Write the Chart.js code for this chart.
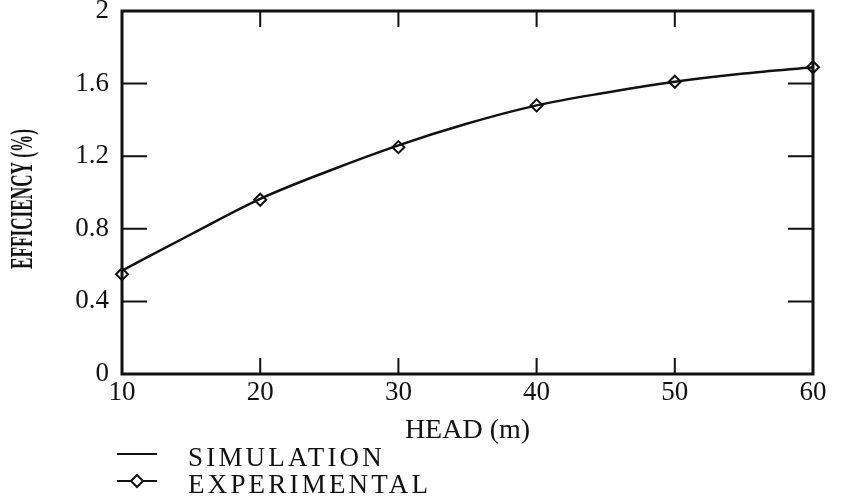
<!DOCTYPE html>
<html>
<head>
<meta charset="utf-8">
<script src="https://cdn.jsdelivr.net/npm/chart.js@4"></script>
<style>
  html, body { margin: 0; padding: 0; background: #fff; }
  #wrap { width: 842px; height: 499px; }
</style>
</head>
<body>
<div id="wrap"><canvas id="myChart"></canvas></div>
<script>
  const simHead = [10, 15, 20, 25, 30, 35, 40, 45, 50, 55, 60];
  const simEff = [0.57, 0.77, 0.965, 1.12, 1.26, 1.38, 1.48, 1.55, 1.61, 1.655, 1.69];
  const expHead = [10, 20, 30, 40, 50, 60];
  const expEff = [0.55, 0.96, 1.25, 1.48, 1.61, 1.69];
  const xTicks = [10, 20, 30, 40, 50, 60];
  const yTicks = [0, 0.4, 0.8, 1.2, 1.6, 2];

  const serif = '"Liberation Serif", "DejaVu Serif", serif';

  // frame, inward ticks, y title and legend
  const paperPlugin = {
    id: 'paper',
    afterDatasetsDraw(chart) {
      const { ctx, chartArea: a, scales } = chart;
      ctx.save();
      ctx.strokeStyle = '#111';
      ctx.lineWidth = 3;
      ctx.strokeRect(a.left, a.top, a.right - a.left, a.bottom - a.top);
      ctx.lineWidth = 2;
      ctx.beginPath();
      xTicks.slice(1, -1).forEach(v => {
        const x = scales.x.getPixelForValue(v);
        ctx.moveTo(x, a.bottom); ctx.lineTo(x, a.bottom - 16);
        ctx.moveTo(x, a.top); ctx.lineTo(x, a.top + 16);
      });
      yTicks.slice(1, -1).forEach(v => {
        const y = scales.y.getPixelForValue(v);
        ctx.moveTo(a.left, y); ctx.lineTo(a.left + 25, y);
        ctx.moveTo(a.right, y); ctx.lineTo(a.right - 25, y);
      });
      ctx.stroke();

      // condensed y title
      ctx.fillStyle = '#111';
      ctx.font = 'bold 32px ' + serif;
      const t = 'EFFICIENCY (%)';
      const w = ctx.measureText(t).width;
      ctx.translate(24, 199);
      ctx.rotate(-Math.PI / 2);
      ctx.scale(140 / w, 1);
      ctx.textAlign = 'center';
      ctx.textBaseline = 'middle';
      ctx.fillText(t, 0, 0);
      ctx.restore();

      // legend
      ctx.save();
      ctx.strokeStyle = '#111';
      ctx.lineWidth = 2;
      ctx.beginPath();
      ctx.moveTo(117, 454); ctx.lineTo(157, 454);
      ctx.moveTo(117, 481); ctx.lineTo(157, 481);
      ctx.stroke();
      ctx.fillStyle = '#fff';
      ctx.beginPath();
      ctx.moveTo(137, 475); ctx.lineTo(143, 481); ctx.lineTo(137, 487); ctx.lineTo(131, 481);
      ctx.closePath();
      ctx.fill(); ctx.stroke();
      ctx.fillStyle = '#111';
      ctx.font = '27px ' + serif;
      ctx.textBaseline = 'middle';
      ctx.letterSpacing = '3.2px';
      ctx.fillText('SIMULATION', 188, 459);
      ctx.fillText('EXPERIMENTAL', 188, 486);
      ctx.restore();
    }
  };

  new Chart(document.getElementById('myChart'), {
    type: 'line',
    data: {
      datasets: [{
        label: 'SIMULATION',
        data: simHead.map((h, i) => ({ x: h, y: simEff[i] })),
        borderColor: '#111',
        borderWidth: 2.5,
        pointRadius: 0,
        tension: 0.4,
        cubicInterpolationMode: 'monotone'
      }, {
        label: 'EXPERIMENTAL',
        data: expHead.map((h, i) => ({ x: h, y: expEff[i] })),
        showLine: false,
        pointStyle: 'rectRot',
        pointRadius: 6,
        pointBorderWidth: 2,
        pointBackgroundColor: '#fff',
        pointBorderColor: '#111',
        clip: false
      }]
    },
    options: {
      responsive: true,
      maintainAspectRatio: false,
      animation: false,
      layout: { padding: { left: 0, top: 11, right: 29, bottom: 0 } },
      plugins: { legend: { display: false }, tooltip: { enabled: false } },
      scales: {
        x: {
          type: 'linear',
          min: 10, max: 60,
          afterFit: s => { s.height = 125; s.paddingLeft = 0; s.paddingRight = 0; },
          afterBuildTicks: s => { s.ticks = xTicks.map(v => ({ value: v })); },
          grid: { display: false, drawTicks: false },
          border: { display: false },
          ticks: { color: '#111', padding: 3, font: { family: serif, size: 27 } },
          title: {
            display: true, text: 'HEAD (m)', color: '#111',
            font: { family: serif, size: 28 },
            padding: { bottom: 52 }
          }
        },
        y: {
          min: 0, max: 2,
          afterFit: s => { s.width = 122; s.paddingTop = 0; s.paddingBottom = 0; },
          afterBuildTicks: s => { s.ticks = yTicks.map(v => ({ value: v })); },
          grid: { display: false, drawTicks: false },
          border: { display: false },
          ticks: {
            color: '#111', padding: 13,
            font: { family: serif, size: 27 },
            callback: v => String(v)
          }
        }
      }
    },
    plugins: [paperPlugin]
  });
</script>
</body>
</html>
